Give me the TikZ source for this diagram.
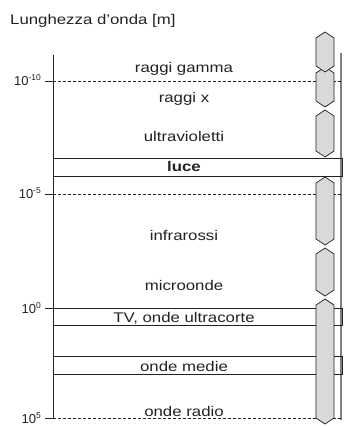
\documentclass[tikz,border=0pt]{standalone}
\usepackage{fontspec}
\setmainfont{Liberation Sans}[FakeStretch=1.2]
\newfontfamily\tickfont{Liberation Sans}
\definecolor{ink}{HTML}{222222}
\definecolor{hexfill}{HTML}{D9D9D9}
\definecolor{rline}{HTML}{808080}
\begin{document}
\begin{tikzpicture}[x=1pt,y=-1pt,
  band/.style={anchor=base,inner sep=0pt,font=\fontsize{14}{16}\selectfont,text=ink},
  ticklab/.style={anchor=base east,inner sep=0pt,font=\tickfont\fontsize{13}{15}\selectfont,text=ink},
  axisline/.style={draw=ink,line width=0.9pt},
  gridline/.style={draw=ink,line width=0.7pt,dash pattern=on 3pt off 2pt},
  boxline/.style={draw=ink,line width=0.9pt},
  hexs/.style={draw=ink,fill=hexfill,line width=0.7pt,line join=miter}]
\useasboundingbox (0,0) rectangle (343,427);
\newcommand\hexband[2]{%
  \draw[hexs] (316,#1+6) -- (325,#1) -- (334,#1+6) -- (334,#2-6) -- (325,#2) -- (316,#2-6) -- cycle;}
\newcommand\sups[1]{\raisebox{5pt}{\fontsize{8.5}{9}\selectfont #1}}
% title
\node[anchor=base west,inner sep=0pt,font=\fontsize{14}{16}\selectfont,text=ink] (title) at (10,25) {Lunghezza d’onda [m]};
% right line
\coordinate (rtop) at (341,53);
\coordinate (rbot) at (341,420);
\draw[draw=rline,line width=1.1pt] (rtop) -- (rbot);
% left axis
\coordinate (atop) at (53,55);
\coordinate (abot) at (53,418);
\draw[axisline] (atop) -- (abot);
% ticks and dashed lines
\foreach \yy/\nm in {81/a,194/b,418/d}{
  \coordinate (t\nm) at (45,\yy);
  \coordinate (l\nm) at (53,\yy);
  \coordinate (r\nm) at (341,\yy);
  \draw[axisline] (t\nm) -- (l\nm);
  \draw[gridline] (l\nm) -- (r\nm);
}
\coordinate (tc) at (45,308);
\coordinate (lc) at (53,308);
\draw[axisline] (tc) -- (lc);
% boxes
\draw[boxline] (53,158) rectangle (342,176);
\draw[boxline] (53,308) rectangle (342,325);
\draw[boxline] (53,356) rectangle (342,374);
% tick labels
\node[ticklab] (m10) at (41,86) {10\sups{-10}};
\node[ticklab] (m5) at (41,199) {10\sups{-5}};
\node[ticklab] (z0) at (41,313) {10\sups{0}};
\node[ticklab] (p5) at (41,423) {10\sups{5}};
% band labels
\node[band] (gamma) at (184,73) {raggi gamma};
\node[band] (xray) at (184,103) {raggi x};
\node[band] (uv) at (184,142) {ultravioletti};
\node[band,font=\fontsize{14}{16}\selectfont\bfseries] (luce) at (184,172) {luce};
\node[band] (ir) at (184,240) {infrarossi};
\node[band] (mw) at (184,290) {microonde};
\node[band] (tv) at (184,322) {TV, onde ultracorte};
\node[band] (om) at (184,371) {onde medie};
\node[band] (radio) at (184,416) {onde radio};
% hexagon bars
\hexband{67}{107}
\hexband{32}{72}
\hexband{110}{157}
\hexband{177}{245}
\hexband{248}{296}
\hexband{299}{424}
\end{tikzpicture}
\end{document}
